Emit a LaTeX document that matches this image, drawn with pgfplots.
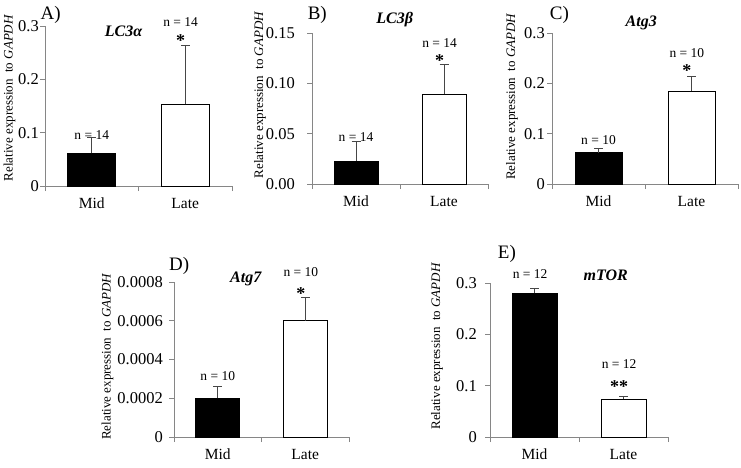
\documentclass[border=0pt]{standalone}
\usepackage{fontspec}
\setmainfont{Liberation Serif}
\usepackage{pgfplots}
\pgfplotsset{compat=1.18}
\definecolor{axgray}{RGB}{134,134,134}
\definecolor{errgray}{RGB}{70,70,70}
\pgfplotsset{
  panel/.style={
    scale only axis,
    anchor=south west,
    xmin=0.5, xmax=2.5, ymin=0,
    axis x line*=bottom, axis y line*=left,
    axis line style={-, draw=axgray, line width=0.8pt},
    tick align=outside,
    major tick length=5pt,
    minor tick length=5pt,
    xtick={1,2}, xticklabels={Mid,Late},
    minor xtick={0.5,1.5,2.5},
    major x tick style={draw=none},
    minor x tick style={draw=axgray, line width=0.8pt},
    ytick style={draw=axgray, line width=0.8pt},
    yticklabel style={font=\rmfamily\fontsize{16.5}{16.5}\selectfont},
    xticklabel style={font=\rmfamily\fontsize{15.5}{15.5}\selectfont, inner ysep=1pt, yshift=-6pt},
    scaled y ticks=false,
    ylabel={Relative expression\ \ to \textit{GAPDH}},
    ylabel style={font=\rmfamily\fontsize{13}{13}\selectfont, anchor=center},
    /pgf/number format/assume math mode=true,
    clip=false,
  },
  ebar/.style={error bars/.cd, y dir=plus, y explicit,
    error bar style={errgray, line width=0.9pt},
    error mark options={rotate=90, errgray, mark size=4.5pt, line width=0.9pt}},
  mid/.style={ybar, fill=black, draw=black, line width=0.6pt, ebar},
  late/.style={ybar, fill=white, draw=black, line width=0.6pt, ebar},
}
\tikzset{
  nlab/.style={font=\rmfamily\fontsize{13.5}{13.5}\selectfont},
  star/.style={font=\rmfamily\bfseries\fontsize{18}{18}\selectfont},
  ttl/.style={font=\rmfamily\fontsize{16}{16}\selectfont\bfseries\itshape},
  plab/.style={font=\rmfamily\fontsize{19}{19}\selectfont},
}
\begin{document}
\begin{tikzpicture}
\useasboundingbox (0pt,0pt) rectangle (741pt,467pt);

% A
\begin{axis}[panel, at={(45pt,281pt)}, width=187pt, height=160pt,
  ymax=0.3, ytick={0,0.1,0.2,0.3}, yticklabels={0,0.1,0.2,0.3},
  yticklabel style={inner xsep=1pt},
  ylabel style={at={(axis description cs:-0.19,0.55)}}]
\addplot[bar width=48pt, mid] coordinates {(1,0.061) +- (0,0.030)};
\addplot[bar width=48pt, late] coordinates {(2,0.153) +- (0,0.111)};
\node[nlab] at (axis cs:1,0.096) {n = 14};
\node[nlab] at (axis cs:1.95,0.307) {n = 14};
\node[star] at (axis cs:1.95,0.272) {*};
\node[ttl] at (axis description cs:0.42,0.97) {LC3α};
\node[plab] at (axis description cs:0.03,1.07) {A)};
\end{axis}

% B
\begin{axis}[panel, at={(312pt,283pt)}, width=176pt, height=151pt,
  ymax=0.15, ytick={0,0.05,0.1,0.15}, yticklabels={0.00,0.05,0.10,0.15},
  yticklabel style={inner xsep=12pt},
  ylabel style={at={(axis description cs:-0.295,0.59)}}]
\addplot[bar width=44pt, mid] coordinates {(1,0.023) +- (0,0.019)};
\addplot[bar width=44pt, late] coordinates {(2,0.089) +- (0,0.030)};
\node[nlab] at (axis cs:1,0.047) {n = 14};
\node[nlab] at (axis cs:1.95,0.140) {n = 14};
\node[star] at (axis cs:1.95,0.123) {*};
\node[ttl] at (axis description cs:0.47,1.09) {LC3β};
\node[plab] at (axis description cs:0.03,1.12) {B)};
\end{axis}

% C
\begin{axis}[panel, at={(552pt,283pt)}, width=186pt, height=151pt,
  ymax=0.3, ytick={0,0.1,0.2,0.3}, yticklabels={0,0.1,0.2,0.3},
  yticklabel style={inner xsep=2pt},
  ylabel style={at={(axis description cs:-0.215,0.58)}}]
\addplot[bar width=47pt, mid] coordinates {(1,0.062) +- (0,0.008)};
\addplot[bar width=47pt, late] coordinates {(2,0.185) +- (0,0.029)};
\node[nlab] at (axis cs:1,0.087) {n = 10};
\node[nlab] at (axis cs:1.95,0.260) {n = 10};
\node[star] at (axis cs:1.95,0.225) {*};
\node[ttl] at (axis description cs:0.48,1.07) {Atg3};
\node[plab] at (axis description cs:0.04,1.12) {C)};
\end{axis}

% D
\begin{axis}[panel, at={(174pt,30pt)}, width=175pt, height=155pt,
  ymax=0.0008, ytick={0,0.0002,0.0004,0.0006,0.0008},
  yticklabels={0,0.0002,0.0004,0.0006,0.0008},
  yticklabel style={inner xsep=6pt},
  ylabel style={at={(axis description cs:-0.38,0.52)}}]
\addplot[bar width=44pt, mid] coordinates {(1,0.0002) +- (0,0.00006)};
\addplot[bar width=44pt, late] coordinates {(2,0.0006) +- (0,0.00012)};
\node[nlab] at (axis cs:1,0.000313) {n = 10};
\node[nlab] at (axis cs:1.95,0.00085) {n = 10};
\node[star] at (axis cs:1.95,0.00074) {*};
\node[ttl] at (axis description cs:0.41,1.02) {Atg7};
\node[plab] at (axis description cs:0.03,1.105) {D)};
\end{axis}

% E
\begin{axis}[panel, at={(490pt,30pt)}, width=178pt, height=154pt,
  ymax=0.3, ytick={0,0.1,0.2,0.3}, yticklabels={0,0.1,0.2,0.3},
  yticklabel style={inner xsep=8pt},
  ylabel style={at={(axis description cs:-0.298,0.59)}}]
\addplot[bar width=45pt, mid] coordinates {(1,0.280) +- (0,0.009)};
\addplot[bar width=45pt, late] coordinates {(2,0.074) +- (0,0.005)};
\node[nlab] at (axis cs:0.95,0.317) {n = 12};
\node[nlab] at (axis cs:1.95,0.1425) {n = 12};
\node[star] at (axis cs:1.95,0.098) {**};
\node[ttl] at (axis description cs:0.65,1.05) {mTOR};
\node[plab] at (axis description cs:0.095,1.19) {E)};
\end{axis}
\end{tikzpicture}
\end{document}
